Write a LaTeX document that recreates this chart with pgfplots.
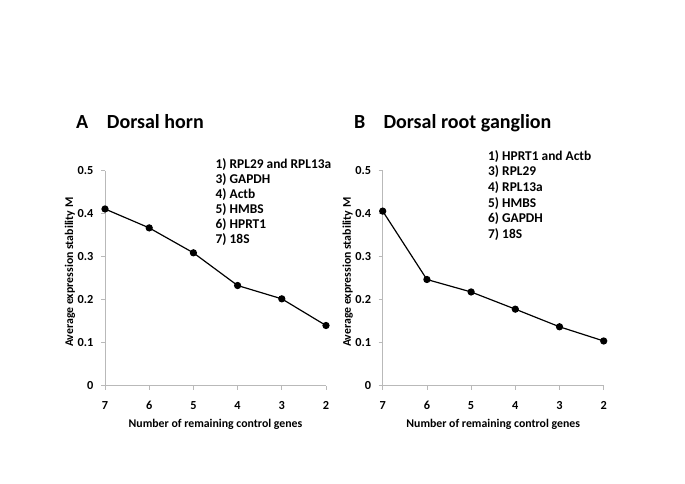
\documentclass[border=0pt]{standalone}
\usepackage{pgfplots}
\pgfplotsset{compat=1.18}
\usepackage{fontspec}
\setmainfont{Carlito}
\begin{document}
\begin{tikzpicture}
\path[use as bounding box, fill=white] (0bp,0bp) rectangle (685bp,484bp);
\pgfplotsset{
 panel/.style={
  scale only axis, width=221bp, height=215bp,
  anchor=south west,
  axis lines*=left,
  axis line style={draw=gray!55, line width=0.8pt, -},
  xmin=0, xmax=5, ymin=0, ymax=0.5,
  xtick={0,1,2,3,4,5}, xticklabels={7,6,5,4,3,2},
  ytick={0,0.1,0.2,0.3,0.4,0.5}, yticklabels={0,0.1,0.2,0.3,0.4,0.5},
  tick align=outside, major tick length=4bp,
  tick style={draw=gray!55, line width=0.8pt},
  ticklabel style={font=\bfseries\fontsize{12.3bp}{14bp}\selectfont},
  xticklabel style={anchor=base, yshift=-20bp},
  yticklabel style={anchor=east, xshift=-4bp},
  label style={font=\bfseries\fontsize{11.8bp}{14bp}\selectfont},
  xlabel={Number of remaining control genes},
  ylabel={Average expression stability M},
  x label style={at={(axis description cs:0.5,0)}, anchor=center, yshift=-39bp},
  y label style={at={(axis description cs:0,0.5)}, anchor=center, yshift=35bp, xshift=6bp},
  clip=false,
 }
}
\begin{axis}[panel, at={(105bp,98.3bp)}]
\addplot[black, line width=1.2pt, mark=*, mark size=3bp] coordinates {
(0,0.411) (1,0.367) (2,0.309) (3,0.233) (4,0.202) (5,0.140)};
\end{axis}
\begin{axis}[panel, at={(382.7bp,98.3bp)}]
\addplot[black, line width=1.2pt, mark=*, mark size=3bp] coordinates {
(0,0.406) (1,0.247) (2,0.218) (3,0.178) (4,0.137) (5,0.104)};
\end{axis}
\node[anchor=base west, inner sep=0, font=\bfseries\fontsize{20bp}{22bp}\selectfont] at (76bp,355bp) {A};
\node[anchor=base west, inner sep=0, font=\bfseries\fontsize{20bp}{22bp}\selectfont] at (106.7bp,355bp) {Dorsal horn};
\node[anchor=base west, inner sep=0, font=\bfseries\fontsize{20bp}{22bp}\selectfont] at (354bp,355bp) {B};
\node[anchor=base west, inner sep=0, font=\bfseries\fontsize{20bp}{22bp}\selectfont] at (383.3bp,355bp) {Dorsal root ganglion};
\node[anchor=north west, inner sep=0, align=left, font=\bfseries\fontsize{13.4bp}{15bp}\selectfont] at (215.5bp,326bp) {1) RPL29 and RPL13a\\3) GAPDH\\4) Actb\\5) HMBS\\6) HPRT1\\7) 18S};
\node[anchor=north west, inner sep=0, align=left, font=\bfseries\fontsize{13.4bp}{15.7bp}\selectfont] at (488bp,334bp) {1) HPRT1 and Actb\\3) RPL29\\4) RPL13a\\5) HMBS\\6) GAPDH\\7) 18S};
\end{tikzpicture}
\end{document}
